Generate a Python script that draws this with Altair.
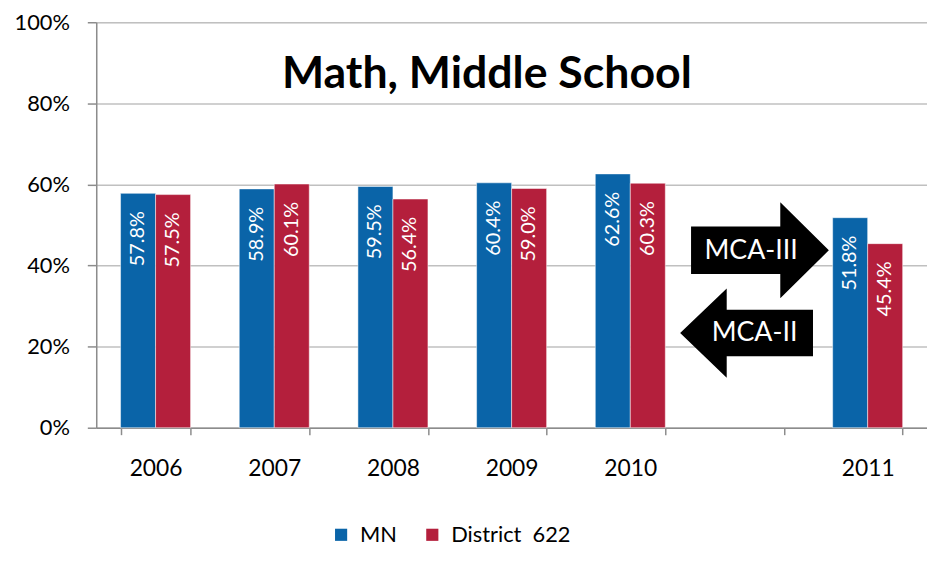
import altair as alt
import pandas as pd

years = ["2006", "2007", "2008", "2009", "2010", "gap", "2011"]
data_years = ["2006", "2007", "2008", "2009", "2010", "2011"]
mn_values = [57.8, 58.9, 59.5, 60.4, 62.6, 51.8]
district_values = [57.5, 60.1, 56.4, 59.0, 60.3, 45.4]
series_names = ["MN", "District\u00a0\u00a0622"]
series_colors = ["#0A64A8", "#B41F3C"]
title_text = "Math, Middle School"
arrow_labels = ["MCA-III", "MCA-II"]

rows = []
for y, v in zip(data_years, mn_values):
    rows.append({"year": y, "series": series_names[0], "value": v / 100, "label": f"{v:.1f}%"})
for y, v in zip(data_years, district_values):
    rows.append({"year": y, "series": series_names[1], "value": v / 100, "label": f"{v:.1f}%"})
df = pd.DataFrame(rows)

FONT = "Lato"

x_enc = alt.X(
    "year:N",
    scale=alt.Scale(domain=years, paddingInner=0.41, paddingOuter=0.205),
    axis=alt.Axis(
        title=None,
        labelExpr="datum.label == 'gap' ? '' : datum.label",
        labelAngle=0,
        labelFontSize=23,
        labelFont=FONT,
        labelColor="#000000",
        labelPadding=23,
        tickBand="extent",
        tickSize=7,
        tickColor="#8C8C8C",
        tickWidth=1.5,
        domainColor="#8C8C8C",
        domainWidth=1.5,
        grid=False,
    ),
)
y_enc = alt.Y(
    "value:Q",
    scale=alt.Scale(domain=[0, 1], nice=False),
    axis=alt.Axis(
        title=None,
        values=[0, 0.2, 0.4, 0.6, 0.8, 1.0],
        format=".0%",
        labelFontSize=22,
        labelFont=FONT,
        labelColor="#000000",
        labelPadding=18,
        tickSize=9,
        tickColor="#8C8C8C",
        tickWidth=1.5,
        domainColor="#8C8C8C",
        domainWidth=1.5,
        gridColor="#C0C0C0",
        gridWidth=1.5,
    ),
)

base = alt.Chart(df)

bars = base.mark_bar(stroke="white", strokeWidth=0.5).encode(
    x=x_enc,
    xOffset=alt.XOffset("series:N", sort=series_names),
    y=y_enc,
    color=alt.Color(
        "series:N",
        scale=alt.Scale(domain=series_names, range=series_colors),
        legend=alt.Legend(
            title=None,
            orient="none",
            legendX=236,
            legendY=506,
            direction="horizontal",
            symbolType="square",
            symbolSize=150,
            symbolStrokeWidth=0,
            labelFontSize=22,
            labelFont=FONT,
            labelColor="#000000",
            labelOffset=8,
            columnPadding=24,
        ),
    ),
)

labels = base.mark_text(
    angle=270, align="right", baseline="middle", dx=-18, color="white",
    fontSize=20, font=FONT,
).encode(
    x=alt.X("year:N"),
    xOffset=alt.XOffset("series:N", sort=series_names),
    y=alt.Y("value:Q"),
    text="label:N",
)

title = alt.Chart(pd.DataFrame({"t": [title_text]})).mark_text(
    fontSize=45, fontWeight="bold", font=FONT, color="#000000",
    align="center", baseline="alphabetic",
).encode(text="t:N", x=alt.value(394), y=alt.value(66))

arrow_right = alt.Chart(pd.DataFrame({"a": [arrow_labels[0]]})).mark_point(
    shape="M -1 -0.345 L 0.295 -0.345 L 0.295 -0.698 L 1 0 L 0.295 0.698 L 0.295 0.345 L -1 0.345 Z",
    size=19321, filled=True, color="black", opacity=1, strokeWidth=0,
).encode(x=alt.value(669.5), y=alt.value(230))

arrow_left = alt.Chart(pd.DataFrame({"a": [arrow_labels[1]]})).mark_point(
    shape="M 1 -0.35 L -0.299 -0.35 L -0.299 -0.672 L -1 0 L -0.299 0.672 L -0.299 0.35 L 1 0.35 Z",
    size=17956, filled=True, color="black", opacity=1, strokeWidth=0,
).encode(x=alt.value(656), y=alt.value(313.5))

text_right = alt.Chart(pd.DataFrame({"a": [arrow_labels[0]]})).mark_text(
    fontSize=27, font=FONT, color="white", align="center", baseline="middle",
).encode(text="a:N", x=alt.value(660.5), y=alt.value(231))

text_left = alt.Chart(pd.DataFrame({"a": [arrow_labels[1]]})).mark_text(
    fontSize=27, font=FONT, color="white", align="center", baseline="middle",
).encode(text="a:N", x=alt.value(664), y=alt.value(314))

chart = alt.layer(
    bars, labels, title, arrow_right, arrow_left, text_right, text_left
).properties(
    width=838,
    height=409,
    padding={"left": 89, "top": 12, "right": 0, "bottom": 126},
    autosize=alt.AutoSizeParams(type="none"),
).configure_view(stroke=None).configure(font=FONT)

chart.save("out.html", embed_options={"renderer": "svg", "actions": False})
